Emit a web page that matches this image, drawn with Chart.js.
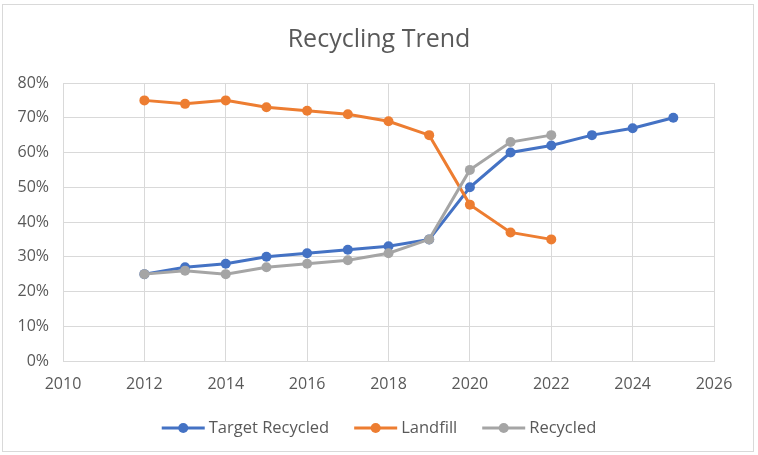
<!DOCTYPE html>
<html lang="en">
<head>
    <meta charset="UTF-8">
    <title>Recycling Trend</title>
    <style>
        html, body { margin: 0; padding: 0; background: #fff; }
        .wrap { position: relative; width: 758px; height: 455px; }
        .frame { position: absolute; left: 2px; top: 4px; width: 750px; height: 446px; border: 1px solid #d9d9d9; pointer-events: none; }
    </style>
</head>
<body>
    <div class="wrap">
        <canvas id="trendChart" width="758" height="455"></canvas>
        <div class="frame"></div>
    </div>
    <script src="https://cdn.jsdelivr.net/npm/chart.js"></script>
    <script>
        // values (percent)
        const years = [2012, 2013, 2014, 2015, 2016, 2017, 2018, 2019, 2020, 2021, 2022, 2023, 2024, 2025];
        const targetRecycled = [25, 27, 28, 30, 31, 32, 33, 35, 50, 60, 62, 65, 67, 70];
        const landfill = [75, 74, 75, 73, 72, 71, 69, 65, 45, 37, 35];
        const recycled = [25, 26, 25, 27, 28, 29, 31, 35, 55, 63, 65];
        const seriesNames = ['Target Recycled', 'Landfill', 'Recycled'];
        const seriesColors = ['#4472C4', '#ED7D31', '#A5A5A5'];

        const textColor = '#595959';
        const gridColor = '#d9d9d9';
        const fontFamily = '"Open Sans", sans-serif';

        function toPoints(values) {
            return values.map((v, i) => ({ x: years[i], y: v }));
        }

        const datasets = [targetRecycled, landfill, recycled].map((vals, i) => ({
            label: seriesNames[i],
            data: toPoints(vals),
            borderColor: seriesColors[i],
            backgroundColor: seriesColors[i],
            borderWidth: 3,
            pointRadius: 5,
            pointHoverRadius: 5,
            pointBorderWidth: 0,
            tension: 0,
            order: i === 0 ? 3 : (i === 1 ? 2 : 1)
        }));

        // centre the title on the whole canvas, not on the padded box
        const centreTitle = {
            id: 'centreTitle',
            afterLayout(chart) {
                const t = chart.titleBlock;
                if (t) { t.left = 0; t.right = chart.width; t.width = chart.width; }
            }
        };

        // legend drawn below the plot: line with dot, then label
        const lineLegend = {
            id: 'lineLegend',
            afterDraw(chart) {
                const ctx = chart.ctx;
                const y = 428;
                const lineLen = 43, gapText = 4, gapItem = 25;
                ctx.save();
                ctx.font = '16.5px ' + fontFamily;
                ctx.textBaseline = 'middle';
                const widths = seriesNames.map(n => ctx.measureText(n).width);
                let total = 0;
                widths.forEach((w, i) => { total += lineLen + gapText + w + (i < widths.length - 1 ? gapItem : 0); });
                let x = chart.width / 2 - total / 2;
                seriesNames.forEach((name, i) => {
                    ctx.strokeStyle = seriesColors[i];
                    ctx.lineWidth = 3;
                    ctx.beginPath();
                    ctx.moveTo(x, y);
                    ctx.lineTo(x + lineLen, y);
                    ctx.stroke();
                    ctx.fillStyle = seriesColors[i];
                    ctx.beginPath();
                    ctx.arc(x + lineLen / 2, y, 5, 0, Math.PI * 2);
                    ctx.fill();
                    ctx.fillStyle = textColor;
                    ctx.fillText(name, x + lineLen + gapText, y);
                    x += lineLen + gapText + widths[i] + gapItem;
                });
                ctx.restore();
            }
        };

        const ctx = document.getElementById('trendChart').getContext('2d');
        const trendChart = new Chart(ctx, {
            type: 'line',
            data: { datasets: datasets },
            options: {
                responsive: false,
                animation: false,
                layout: { padding: { left: 0, right: 44, top: 0, bottom: 0 } },
                plugins: {
                    legend: { display: false },
                    tooltip: { enabled: false },
                    title: {
                        display: true,
                        text: 'Recycling Trend',
                        color: textColor,
                        font: { family: fontFamily, size: 25, weight: 'normal' },
                        padding: { top: 25, bottom: 28 }
                    }
                },
                scales: {
                    x: {
                        type: 'linear',
                        min: 2010,
                        max: 2026,
                        ticks: {
                            stepSize: 2,
                            color: textColor,
                            padding: 14,
                            font: { family: fontFamily, size: 16 },
                            callback: v => String(v)
                        },
                        grid: { color: gridColor, drawTicks: false },
                        border: { color: gridColor },
                        afterFit: s => { s.height = 94; }
                    },
                    y: {
                        min: 0,
                        max: 80,
                        ticks: {
                            stepSize: 10,
                            color: textColor,
                            padding: 14,
                            font: { family: fontFamily, size: 16 },
                            callback: v => v + '%'
                        },
                        grid: { color: gridColor, drawTicks: false },
                        border: { color: gridColor },
                        afterFit: s => { s.width = 63; }
                    }
                }
            },
            plugins: [centreTitle, lineLegend]
        });
    </script>
</body>
</html>
